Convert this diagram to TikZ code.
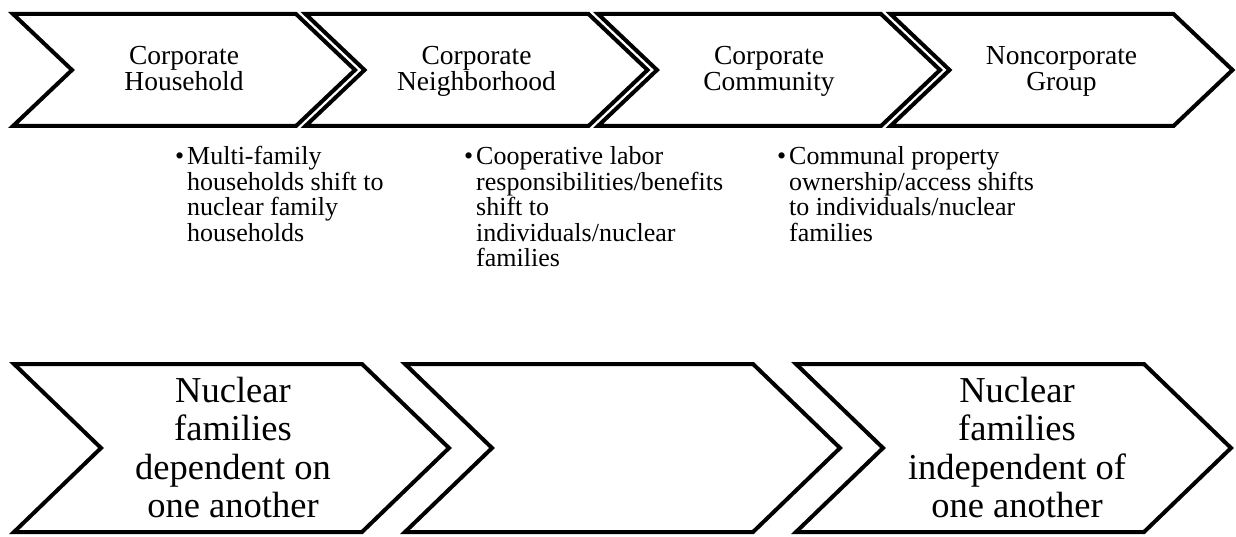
\documentclass[tikz,border=0pt]{standalone}
\usepackage{fontspec}
\setmainfont{Liberation Serif}

% Stacks of lines whose baseline is that of the first line
\newcommand\centredlines[1]{\vtop{\halign{\hfil##\hfil\cr#1\crcr}}}
\newcommand\leftlines[1]{\vtop{\halign{##\hfil\cr#1\crcr}}}
\newcommand\bulletmark{\llap{\textbullet\hspace{3pt}}}

% Chevron outline: left x, top y, bottom y, flat length, point depth
\newcommand\chevronpath[5]{%
  \pgfmathsetmacro\cvl{#1}%
  \pgfmathsetmacro\cva{#1+#4}%
  \pgfmathsetmacro\cvb{#1+#4+#5}%
  \pgfmathsetmacro\cvc{#1+#5}%
  \pgfmathsetmacro\cvm{(#2+#3)/2}%
  \draw[chev] (\cvl,#2) -- (\cva,#2) -- (\cvb,\cvm) -- (\cva,#3)
    -- (\cvl,#3) -- (\cvc,\cvm) -- cycle;}

\begin{document}
\begin{tikzpicture}[x=1pt,y=-1pt,
  chev/.style={draw=black,line width=4pt,fill=white,line join=miter,miter limit=10},
  toplabel/.style={anchor=base,inner sep=0pt,font=\fontsize{27.5}{25.5}\selectfont},
  note/.style={anchor=base west,inner sep=0pt,font=\fontsize{26}{25.5}\selectfont},
  endlabel/.style={anchor=base,inner sep=0pt,font=\fontsize{36.5}{38.5}\selectfont}]
\useasboundingbox (0,0) rectangle (1236,537);
\fill[white] (0,0) rectangle (1236,537);

% upper row of four stages
\foreach \i in {0,...,3}{\chevronpath{13+292.5*\i}{14}{126}{283}{59}}
% lower row of three arrows
\foreach \i in {0,1,2}{\chevronpath{14+391*\i}{364}{532}{348}{87}}

\node[toplabel] (stage1) at (184,65)    {\centredlines{Corporate\cr Household}};
\node[toplabel] (stage2) at (476.5,65)  {\centredlines{Corporate\cr Neighborhood}};
\node[toplabel] (stage3) at (769,65)    {\centredlines{Corporate\cr Community}};
\node[toplabel] (stage4) at (1061.5,65) {\centredlines{Noncorporate\cr Group}};

\node[note] (note1) at (187,165) {\leftlines{\bulletmark Multi-family\cr
  households shift to\cr nuclear family\cr households}};
\node[note] (note2) at (476,165) {\leftlines{\bulletmark Cooperative labor\cr
  responsibilities/benefits\cr shift to\cr individuals/nuclear\cr families}};
\node[note] (note3) at (789,165) {\leftlines{\bulletmark Communal property\cr
  ownership/access shifts\cr to individuals/nuclear\cr families}};

\node[endlabel] (dependent) at (233,402)
  {\centredlines{Nuclear\cr families\cr dependent on\cr one another}};
\node[endlabel] (independent) at (1017,402)
  {\centredlines{Nuclear\cr families\cr independent of\cr one another}};
\end{tikzpicture}
\end{document}
